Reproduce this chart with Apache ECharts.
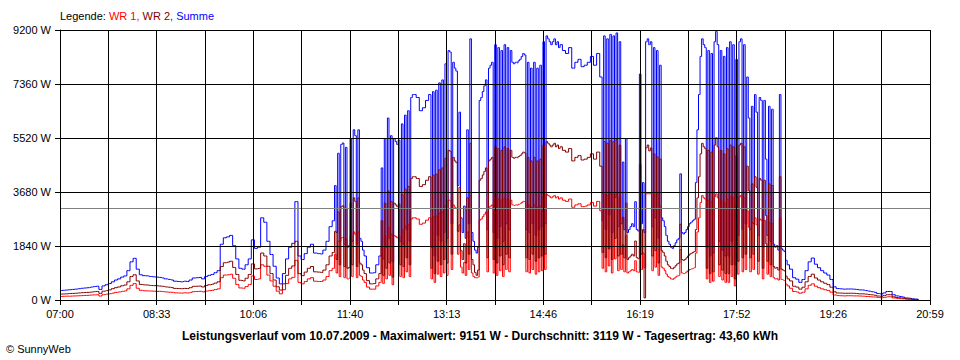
<!DOCTYPE html>
<html>
<head>
<meta charset="utf-8">
<script src="https://cdn.jsdelivr.net/npm/echarts@6/dist/echarts.min.js"></script>
<style>
html,body{margin:0;padding:0;background:#fff;}
#chart{width:960px;height:360px;}
</style>
</head>
<body>
<div id="chart"></div>
<script>
// Reading times in minutes after 07:00: [first minute, spacing, number of readings]
const TIME_SEGMENTS = [
  [0, 3, 88], [264, 1.5, 21], [297, 3, 4], [309, 1.5, 23], [345, 3, 4],
  [357, 1.5, 85], [486, 3, 12], [522, 1.5, 121], [705, 3, 42]
];
const X_MAX_MIN = 839; // 07:00 .. 20:59
const X_TICK_LABELS = ['07:00','08:33','10:06','11:40','13:13','14:46','16:19','17:52','19:26','20:59'];
const Y_MAX = 9200;
const Y_STEP = 1840;
const AVERAGE_W = 3119;
const LEGEND_PREFIX = 'Legende: ';
const SERIES_NAMES = ['WR 1', 'WR 2', 'Summe'];
const FOOTER_TEXT = 'Leistungsverlauf vom 10.07.2009 - Maximalwert: 9151 W - Durchschnitt: 3119 W - Tagesertrag: 43,60 kWh';
const COPYRIGHT_TEXT = '\u00A9 SunnyWeb';

const SUMME = [
// 07:00 - 11:21
320,330,340,350,360,370,385,400,410,420,
440,460,470,360,480,520,560,620,680,720,
780,820,1000,1300,1420,1050,860,830,820,800,
790,780,770,750,720,700,680,640,630,620,
640,630,680,750,760,770,720,800,840,870,
930,1000,1900,2120,2150,2200,1850,1400,1080,1050,
1200,1400,2050,1760,1800,2800,2650,2000,1550,1150,
750,550,900,1400,1800,1930,3350,1500,1380,1580,
1800,1900,1600,1580,1570,1700,2000,2500,
// 11:24 - 11:54
2700,3900,2300,5000,2000,5300,5350,1900,5200,1800,1850,5500,2000,5800,5600,1900,5800,2100,2000,1700,1500,
// 11:57 - 12:06
1100,920,930,1200,
// 12:09 - 12:42
1500,4500,1400,5500,1800,6200,2100,5600,1300,5500,5400,5300,5450,2000,6000,1900,6300,2400,6450,2000,6900,7000,7000,
// 12:45 - 12:54
6900,6450,6550,6800,
// 12:57 - 15:03
7000,1800,7100,1500,7150,2200,7400,2000,7500,2300,
8050,2100,8500,8450,2600,8100,7900,7800,3900,6400,
2800,2300,3200,2100,5800,2600,8900,2300,2000,1700,
1600,1800,6800,6900,7100,7300,7500,2400,7900,8000,
8100,2300,8700,2100,8600,2500,8500,2000,8700,2600,
8600,2400,8500,8100,8050,8100,8080,8150,8200,8300,
8400,8350,2400,8100,2300,7900,2600,8100,2200,7900,
2400,8000,2500,8800,2600,9000,8900,8800,8700,8800,
8900,8700,8800,8600,8700,
// 15:06 - 15:39
8500,8400,8600,7900,8100,8200,7950,8000,8100,8300,8000,8400,
// 15:42 - 18:42
7600,2700,9000,2400,8900,2900,9050,2300,9000,3500,
9100,2500,8800,2600,4700,2400,5500,2300,2400,2500,
2600,2500,3350,2400,2350,7700,2600,4000,2300,8800,
8900,8700,8800,2500,8600,2800,8500,2100,8000,2800,
2700,2500,2200,2000,1900,1800,1760,1850,1950,2050,
2100,4300,2300,2250,2300,2400,2500,2600,2650,2700,
2750,4000,5800,7000,8300,8900,8700,8600,1800,8500,
1500,8400,1600,8800,9150,8700,2000,8500,1700,8300,
1500,8600,1500,8800,2000,8700,1200,8200,2200,8800,
8900,2400,8700,2600,7600,6200,2400,6600,2600,7000,
6400,2200,6900,6800,1800,6800,4800,2200,6600,2000,
6500,1900,1800,1850,1700,7000,1750,1700,1650,1350,
1200,
// 18:45 - 20:48
1050,760,710,600,700,1000,1300,1430,1220,1100,
1000,920,850,700,450,390,380,370,375,375,
370,360,345,340,320,300,280,260,220,200,
240,290,290,180,140,120,100,70,60,40,
30,20
];

const WR2 = [
200,205,210,220,225,230,240,250,255,260,
270,285,290,225,300,320,345,385,420,445,
485,510,620,800,860,650,530,515,510,495,
490,485,475,465,445,435,420,395,390,385,
395,390,420,465,470,475,445,495,520,540,
575,620,1140,1270,1290,1320,1110,870,670,650,
740,870,1230,1060,1080,1600,1500,1150,900,680,
450,340,550,840,1080,1160,2000,900,830,950,
1080,1140,960,950,940,1020,1200,1500,
1620,2340,1380,3000,1200,3180,3210,1140,3120,1080,1110,3300,1200,3480,3360,1140,3480,1260,1200,1020,900,
660,550,560,720,
900,2700,840,3300,1080,3720,1260,3360,780,3300,3240,3180,3270,1200,3600,1140,3780,1440,3870,1200,4140,4200,4200,
4140,3870,3930,4080,
4200,1080,4260,900,4290,1320,4440,1200,4500,1380,
4830,1260,5100,5070,1560,4860,4740,4680,2340,3840,
1680,1380,1920,1260,3480,1560,5340,1380,1200,940,
840,1020,4080,4140,4260,4380,4500,1440,4740,4800,
4860,1380,5220,1260,5160,1500,5100,1200,5220,1560,
5160,1440,5100,4860,4830,4860,4850,4890,4920,4980,
5040,5010,1440,4860,1380,4740,1560,4860,1320,4740,
1440,4800,1500,5280,1560,5400,5340,5280,5220,5280,
5340,5220,5280,5160,5220,
5100,5040,5160,4740,4860,4920,4770,4800,4860,4980,4800,5040,
4560,1620,5400,1440,5340,1740,5430,1380,5400,2100,
5480,1500,5280,1560,2820,1440,3300,1380,1440,1500,
1560,1500,2010,1440,1410,4620,1560,2400,70,5180,
5280,5080,5180,1500,4980,1680,4880,1260,4800,1680,
1620,1500,1320,1200,1140,1080,1060,1110,1170,1230,
1260,2580,1380,1350,1380,1440,1500,1560,1590,1620,
1650,2400,3480,4200,4980,5340,5220,5160,1080,5100,
900,5040,960,5280,5530,5220,1200,5100,1020,4980,
900,5160,900,5280,1200,5220,720,4920,1320,5280,
5340,1440,5220,1560,4560,3720,1440,3960,1560,4200,
3840,1320,4140,4080,1080,4080,2880,1320,3960,1200,
3900,1140,1080,1110,1020,4200,1050,1020,990,810,
720,
650,470,440,370,435,620,800,880,750,680,
620,570,525,435,280,240,235,230,230,230,
230,220,210,210,200,185,175,160,135,125,
150,180,180,110,85,75,60,45,35,25,
20,10
];

const WR1 = [
120,125,130,130,135,140,145,150,155,160,
170,175,180,135,180,200,215,235,260,275,
295,310,380,500,560,400,330,315,310,305,
300,295,295,285,275,265,260,245,240,235,
245,240,260,285,290,295,275,305,320,330,
355,380,760,850,860,880,740,530,410,400,
460,530,820,700,720,1200,1150,850,650,470,
300,210,350,560,720,770,1350,600,550,630,
720,760,640,630,630,680,800,1000,
1080,1560,920,2000,800,2120,2140,760,2080,720,740,2200,800,2320,2240,760,2320,840,800,680,600,
440,370,370,480,
600,1800,560,2200,720,2480,840,2240,520,2200,2160,2120,2180,800,2400,760,2520,960,2580,800,2760,2800,2800,
2760,2580,2620,2720,
2800,720,2840,600,2860,880,2960,800,3000,920,
3220,840,3400,3380,1040,3240,3160,3120,1560,2560,
1120,920,1280,840,2320,1040,3560,920,800,760,
760,780,2720,2760,2840,2920,3000,960,3160,3200,
3240,920,3480,840,3440,1000,3400,800,3480,1040,
3440,960,3400,3240,3220,3240,3230,3260,3280,3320,
3360,3340,960,3240,920,3160,1040,3240,880,3160,
960,3200,1000,3520,1040,3600,3560,3520,3480,3520,
3560,3480,3520,3440,3480,
3400,3360,3440,3160,3240,3280,3180,3200,3240,3320,3200,3360,
3040,1080,3600,960,3560,1160,3620,920,3600,1400,
3620,1000,3520,1040,1880,960,2200,920,960,1000,
1040,1000,1340,960,940,3080,1040,1600,1100,3620,
3620,3620,3620,1000,3620,1120,3620,840,3200,1120,
1080,1000,880,800,760,720,700,740,780,820,
840,1720,920,900,920,960,1000,1040,1060,1080,
1100,1600,2320,2800,3320,3560,3480,3440,720,3400,
600,3360,640,3520,3620,3480,800,3400,680,3320,
600,3440,600,3520,800,3480,480,3280,880,3520,
3560,960,3480,1040,3040,2480,960,2640,1040,2800,
2560,880,2760,2720,720,2720,1920,880,2640,800,
2600,760,720,740,680,2800,700,680,660,540,
480,
400,290,270,230,265,380,500,550,470,420,
380,350,325,265,170,150,145,140,145,145,
140,140,135,130,120,115,105,100,85,75,
90,110,110,70,55,45,40,25,25,15,
10,10
];

const X_INTERVAL = X_MAX_MIN / ((X_TICK_LABELS.length - 1) * 2);
const FONT = '"Liberation Sans", Arial, sans-serif';

const TIMES = [];
TIME_SEGMENTS.forEach(function (seg) {
  for (let k = 0; k < seg[2]; k++) TIMES.push(seg[0] + k * seg[1]);
});

function toPairs(arr) {
  return arr.map(function (v, i) { return [TIMES[i], v]; });
}

const chart = echarts.init(document.getElementById('chart'), null, { renderer: 'svg' });

function lineSeries(name, data, color, z, extra) {
  return Object.assign({
    type: 'line',
    name: name,
    data: toPairs(data),
    symbol: 'none',
    showSymbol: false,
    step: 'middle',
    silent: true,
    animation: false,
    z: z,
    lineStyle: { color: color, width: 1 },
    emphasis: { disabled: true }
  }, extra || {});
}

const option = {
  animation: false,
  backgroundColor: '#ffffff',
  textStyle: { fontFamily: FONT },
  title: [
    {
      text: '{k|' + LEGEND_PREFIX + '}{r|' + SERIES_NAMES[0] + ', }{d|' + SERIES_NAMES[1] + ', }{b|' + SERIES_NAMES[2] + '}',
      left: 60, top: 10, padding: 0,
      textStyle: {
        fontSize: 11, fontFamily: FONT, fontWeight: 'normal',
        rich: {
          k: { color: '#000000', fontSize: 11, fontFamily: FONT },
          r: { color: '#ff0000', fontSize: 11, fontFamily: FONT },
          d: { color: '#800000', fontSize: 11, fontFamily: FONT },
          b: { color: '#0000ff', fontSize: 11, fontFamily: FONT }
        }
      }
    },
    {
      text: FOOTER_TEXT,
      left: 'center', top: 330, padding: 0,
      textStyle: { fontSize: 12, fontWeight: 'bold', color: '#000000', fontFamily: FONT }
    },
    {
      text: COPYRIGHT_TEXT,
      left: 6, top: 343, padding: 0,
      textStyle: { fontSize: 11, fontWeight: 'normal', color: '#000000', fontFamily: FONT }
    }
  ],
  grid: { left: 60, top: 30, right: 30, bottom: 60, containLabel: false },
  xAxis: {
    type: 'value',
    min: 0,
    max: X_MAX_MIN,
    interval: X_INTERVAL,
    z: 10,
    axisLine: { show: true, lineStyle: { color: '#000000', width: 1 } },
    axisTick: { show: true, length: 5, lineStyle: { color: '#000000', width: 1 } },
    splitLine: { show: true, lineStyle: { color: '#000000', width: 1 } },
    axisLabel: {
      color: '#000000', fontSize: 11, fontFamily: FONT, margin: 8,
      showMinLabel: true, showMaxLabel: true, hideOverlap: false,
      formatter: function (v) {
        const k = Math.round(v / X_INTERVAL);
        return (k % 2 === 0) ? (X_TICK_LABELS[k / 2] || '') : '';
      }
    }
  },
  yAxis: {
    type: 'value',
    min: 0,
    max: Y_MAX,
    interval: Y_STEP,
    z: 10,
    axisLine: { show: true, lineStyle: { color: '#000000', width: 1 } },
    axisTick: { show: true, length: 5, lineStyle: { color: '#000000', width: 1 } },
    splitLine: { show: true, lineStyle: { color: '#000000', width: 1 } },
    axisLabel: {
      color: '#000000', fontSize: 11, fontFamily: FONT, margin: 9,
      formatter: function (v) { return v + ' W'; }
    }
  },
  series: [
    lineSeries(SERIES_NAMES[2], SUMME, '#0000ff', 2),
    lineSeries(SERIES_NAMES[0], WR1, '#ff0000', 3, {
      markLine: {
        silent: true,
        animation: false,
        symbol: 'none',
        label: { show: false },
        lineStyle: { color: '#808080', type: 'solid', width: 1 },
        data: [{ yAxis: AVERAGE_W }]
      }
    }),
    lineSeries(SERIES_NAMES[1], WR2, '#800000', 4)
  ]
};

if (SUMME.length !== TIMES.length || WR1.length !== TIMES.length || WR2.length !== TIMES.length) {
  console.error('length mismatch', TIMES.length, SUMME.length, WR1.length, WR2.length);
}

chart.setOption(option);
</script>
</body>
</html>
